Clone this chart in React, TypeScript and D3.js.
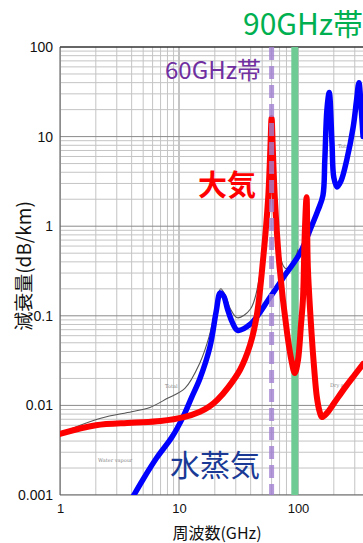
import { useEffect, useRef } from 'react';
import * as d3 from 'd3';

// dry air (red) attenuation
const dryFreq = [1, 2, 4, 7, 11, 15, 18, 21, 26, 32.6, 39.5, 45, 51, 56, 58.5, 60, 61.5, 64, 70, 81, 88, 94, 100, 106, 110, 114, 118, 121, 130, 137, 144, 152, 159, 175, 200, 250, 300, 352];
const dryAtt = [0.0048, 0.006, 0.0064, 0.0067, 0.0074, 0.0085, 0.0097, 0.0115, 0.016, 0.025, 0.047, 0.1, 0.44, 1.96, 7, 16, 7, 1.96, 0.35, 0.064, 0.032, 0.023, 0.032, 0.08, 0.15, 0.84, 2.1, 0.35, 0.064, 0.025, 0.0124, 0.0085, 0.0074, 0.0082, 0.0105, 0.016, 0.022, 0.029];

// water vapour (blue)
const wetFreq = [3.8, 5, 6.5, 8.7, 10.8, 12.8, 15, 18.2, 20.5, 22.2, 23.8, 25.5, 28, 31, 39.5, 58, 80, 104, 130, 147, 162, 168, 175, 183, 193, 200, 213, 230, 257, 291, 310, 325, 340, 352];
const wetAtt = [0.0008, 0.0015, 0.0026, 0.0044, 0.0074, 0.0124, 0.02, 0.045, 0.11, 0.18, 0.165, 0.12, 0.085, 0.069, 0.08, 0.16, 0.3, 0.5, 1.0, 1.5, 2.2, 5.5, 20, 31, 8.5, 3.5, 2.74, 3.2, 5.5, 12.8, 25, 40, 20, 10];

// total (thin grey)
const totalFreq = [1, 2.2, 4, 5.7, 8, 11.2, 15, 18, 20.5, 22.4, 24.5, 27, 31, 40, 48, 54, 60, 64, 70, 78, 88, 100];
const totalAtt = [0.0049, 0.0072, 0.0085, 0.0095, 0.012, 0.0155, 0.03, 0.06, 0.13, 0.2, 0.17, 0.12, 0.095, 0.12, 0.3, 1.5, 16, 2.2, 0.5, 0.34, 0.36, 0.55];

const xTicks = [1, 10, 100];
const xTickLabels = ['1', '10', '100'];
const yTicks = [0.001, 0.01, 0.1, 1, 10, 100];
const yTickLabels = ['0.001', '0.01', '0.1', '1', '10', '100'];

const band60 = 60;
const band90 = 94;

const W = 363;
const H = 543;

export default function App() {
  const svgRef = useRef(null);

  useEffect(() => {
    const svg = d3.select(svgRef.current);
    svg.selectAll('*').remove();

    const left = 60, top = 47, bottom = 495, right = W;
    const decade = 119;

    const x = d3.scaleLog().domain([1, 1000]).range([left, left + 3 * decade]);
    const y = d3.scaleLog().domain([0.001, 100]).range([bottom, top]);

    svg.append('rect').attr('width', W).attr('height', H).attr('fill', '#fff');

    svg.append('defs').append('clipPath').attr('id', 'plotclip')
      .append('rect')
      .attr('x', left).attr('y', top)
      .attr('width', right - left).attr('height', bottom - top);

    // grid
    const grid = svg.append('g').attr('clip-path', 'url(#plotclip)');
    const xGrid = [];
    [1, 10, 100].forEach(p => d3.range(1, 10).forEach(d => xGrid.push(p * d)));
    const yGrid = [];
    [0.001, 0.01, 0.1, 1, 10].forEach(p => d3.range(1, 10).forEach(d => yGrid.push(p * d)));

    grid.selectAll('line.xg')
      .data(xGrid)
      .join('line')
      .attr('x1', d => x(d)).attr('x2', d => x(d))
      .attr('y1', top).attr('y2', bottom)
      .attr('stroke', d => xTicks.includes(d) ? '#8a8a8a' : '#c4c4c4')
      .attr('stroke-width', 1);

    grid.selectAll('line.yg')
      .data(yGrid)
      .join('line')
      .attr('x1', left).attr('x2', right)
      .attr('y1', d => y(d)).attr('y2', d => y(d))
      .attr('stroke', d => yTicks.includes(+d.toPrecision(3)) ? '#8a8a8a' : '#c4c4c4')
      .attr('stroke-width', 1);

    // frame
    svg.append('line').attr('x1', left).attr('x2', right).attr('y1', top).attr('y2', top)
      .attr('stroke', '#333').attr('stroke-width', 1.5);
    svg.append('line').attr('x1', left).attr('x2', left).attr('y1', top).attr('y2', bottom)
      .attr('stroke', '#555').attr('stroke-width', 1);
    svg.append('line').attr('x1', left).attr('x2', right).attr('y1', bottom).attr('y2', bottom)
      .attr('stroke', '#666').attr('stroke-width', 1);

    const plot = svg.append('g').attr('clip-path', 'url(#plotclip)');

    // 90GHz band
    plot.append('line')
      .attr('x1', x(band90)).attr('x2', x(band90))
      .attr('y1', top).attr('y2', bottom + 2)
      .attr('stroke', '#6fcb94').attr('stroke-width', 7);

    const line = d3.line()
      .x(d => x(d[0]))
      .y(d => y(d[1]))
      .curve(d3.curveCatmullRom.alpha(0.5));

    // small labels from the underlying chart
    const tiny = [['Total', 165, 388], ['Dry air', 330, 387], ['Water vapour', 98, 462], ['Total', 338, 148]];
    plot.selectAll('text.tiny')
      .data(tiny)
      .join('text')
      .attr('x', d => d[1]).attr('y', d => d[2])
      .attr('font-family', 'DejaVu Serif')
      .attr('font-size', 5)
      .attr('fill', '#888')
      .text(d => d[0]);

    plot.append('path')
      .datum(d3.zip(totalFreq, totalAtt))
      .attr('fill', 'none')
      .attr('stroke', '#555')
      .attr('stroke-width', 1.1)
      .attr('d', line);

    plot.append('path')
      .datum(d3.zip(wetFreq, wetAtt))
      .attr('fill', 'none')
      .attr('stroke', '#0000ff')
      .attr('stroke-width', 5.5)
      .attr('stroke-linejoin', 'round')
      .attr('stroke-linecap', 'round')
      .attr('d', line);

    plot.append('path')
      .datum(d3.zip(dryFreq, dryAtt))
      .attr('fill', 'none')
      .attr('stroke', '#ff0000')
      .attr('stroke-width', 6)
      .attr('stroke-linejoin', 'round')
      .attr('stroke-linecap', 'round')
      .attr('d', line);

    // 60GHz band
    plot.append('line')
      .attr('x1', x(band60)).attr('x2', x(band60))
      .attr('y1', top).attr('y2', bottom)
      .attr('stroke', '#a07fcf').attr('stroke-opacity', 0.8)
      .attr('stroke-width', 5)
      .attr('stroke-dasharray', '13 6');

    // axes
    const yAxis = svg.append('g')
      .attr('transform', `translate(${left - 4},0)`)
      .call(d3.axisLeft(y).tickValues(yTicks).tickSize(0).tickFormat((d, i) => yTickLabels[i]));
    yAxis.select('.domain').remove();
    yAxis.selectAll('text')
      .attr('font-family', 'Liberation Sans, Arial, sans-serif')
      .attr('font-size', 14)
      .attr('fill', '#111');

    const xAxis = svg.append('g')
      .attr('transform', `translate(0,${bottom + 6})`)
      .call(d3.axisBottom(x).tickValues(xTicks).tickSize(0).tickFormat((d, i) => xTickLabels[i]));
    xAxis.select('.domain').remove();
    xAxis.selectAll('text')
      .attr('font-family', 'Liberation Sans, Arial, sans-serif')
      .attr('font-size', 13)
      .attr('fill', '#111');

    const jp = 'Noto Sans CJK JP, sans-serif';

    svg.append('text')
      .attr('x', 217).attr('y', 539)
      .attr('text-anchor', 'middle')
      .attr('font-family', jp)
      .attr('font-size', 16)
      .attr('fill', '#111')
      .text('周波数(GHz)');

    svg.append('text')
      .attr('transform', 'translate(31,266) rotate(-90)')
      .attr('text-anchor', 'middle')
      .attr('font-family', jp)
      .attr('font-size', 19)
      .attr('fill', '#111')
      .text('減衰量(dB/km)');

    // annotations
    svg.append('text')
      .attr('x', 243).attr('y', 35)
      .attr('font-family', jp)
      .attr('font-size', 30)
      .attr('fill', '#00b050')
      .text('90GHz帯');

    svg.append('text')
      .attr('x', 165).attr('y', 79)
      .attr('font-family', jp)
      .attr('font-size', 24)
      .attr('fill', '#7030a0')
      .text('60GHz帯');

    svg.append('text')
      .attr('x', 198).attr('y', 196)
      .attr('font-family', jp)
      .attr('font-size', 29)
      .attr('font-weight', 'bold')
      .attr('fill', '#ff0000')
      .text('大気');

    svg.append('text')
      .attr('x', 170).attr('y', 476)
      .attr('font-family', jp)
      .attr('font-size', 30)
      .attr('fill', '#1a3a96')
      .text('水蒸気');
  }, []);

  return (
    <svg
      ref={svgRef}
      width={W}
      height={H}
      style={{ position: 'fixed', left: 0, top: 0, display: 'block' }}
    />
  );
}
